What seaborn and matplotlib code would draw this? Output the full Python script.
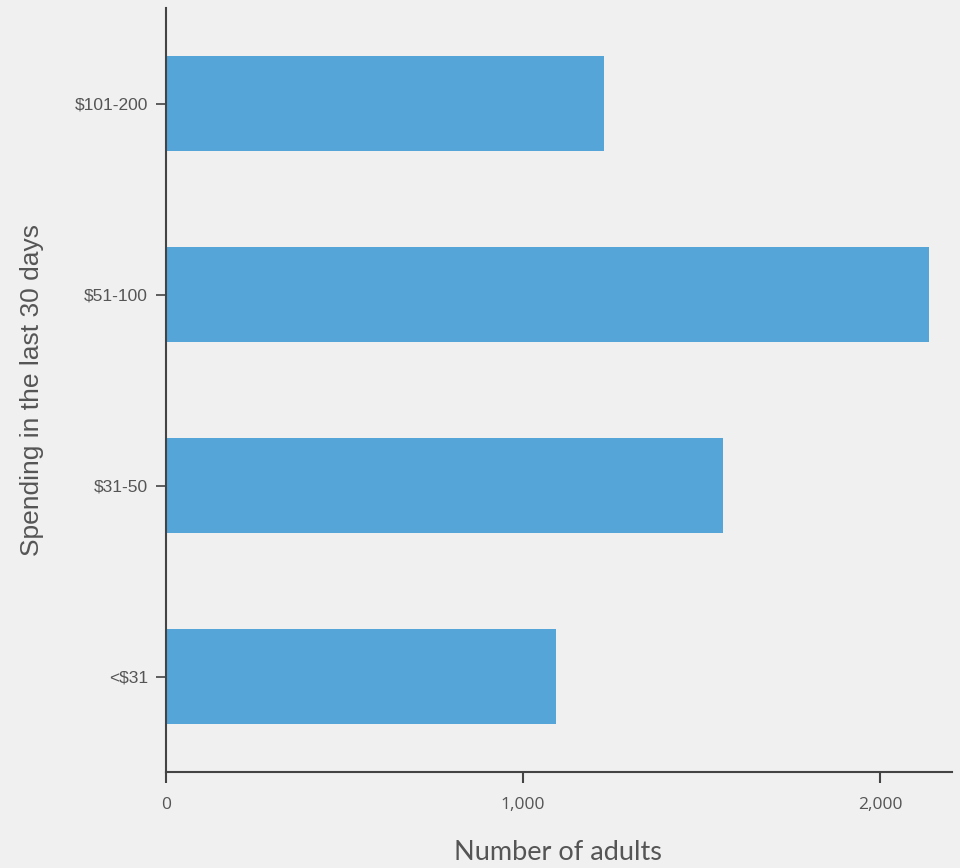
import matplotlib
matplotlib.use("Agg")
import matplotlib.pyplot as plt
import matplotlib.ticker as mticker
import seaborn as sns
import pandas as pd

categories = ["$101-200", "$51-100", "$31-50", "<$31"]
values = [1227, 2137, 1560, 1092]
xticks = [0, 1000, 2000]

df = pd.DataFrame({"Spending": categories, "Adults": values})

sns.set_theme(style="white")
plt.rcParams["font.family"] = ["Liberation Sans", "DejaVu Sans"]
bg = "#f0f0f0"
txt = "#555555"

fig = plt.figure(figsize=(9.6, 8.68), dpi=100, facecolor=bg)
ax = fig.add_axes([166/960, 1-772/868, (952-166)/960, (772-8)/868])
ax.set_facecolor(bg)

sns.barplot(data=df, x="Adults", y="Spending", order=categories, color="#55a5d9",
            saturation=1, width=0.5, linewidth=0, edgecolor="none", ax=ax)

ax.set_xlim(0, 2202)
ax.set_ylim(3.5, -0.5)
ax.set_xticks(xticks)
ax.xaxis.set_major_formatter(mticker.FuncFormatter(lambda v, p: f"{int(v):,}"))

for s in ["top", "right"]:
    ax.spines[s].set_visible(False)
for s in ["left", "bottom"]:
    ax.spines[s].set_color("#444444")
    ax.spines[s].set_linewidth(1.5)

ax.tick_params(axis="x", bottom=True, direction="out", length=8, width=1.5, color="#444444",
               labelsize=12.5, labelcolor=txt, pad=10)
ax.tick_params(axis="y", left=True, direction="out", length=7, width=1.2, color="#444444",
               labelsize=12.5, labelcolor=txt, pad=6)
for lab in ax.get_xticklabels():
    lab.set_family(["Open Sans", "DejaVu Sans"])

ax.set_xlabel("Number of adults", fontsize=19.5, color=txt, family=["Lato", "DejaVu Sans"],
              va="center")
ax.xaxis.set_label_coords(0.499, (772-853)/764)
ax.set_ylabel("Spending in the last 30 days", fontsize=19, color=txt, va="center", ha="center")
ax.yaxis.set_label_coords((32-166)/786, 0.5)

fig.savefig("out.png", dpi=100, facecolor=bg)
